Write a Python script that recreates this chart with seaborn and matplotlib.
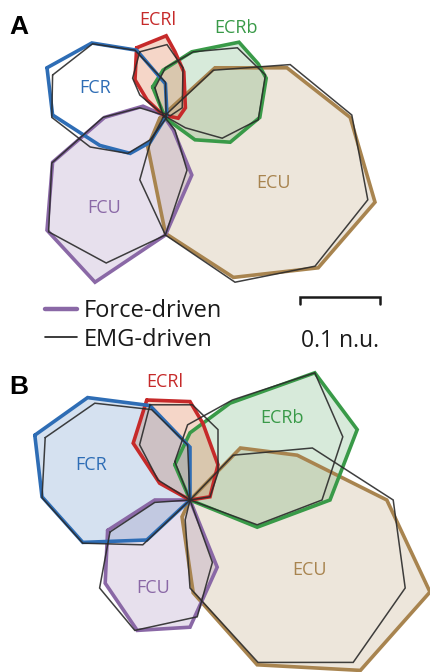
import numpy as np
import pandas as pd
import matplotlib
matplotlib.use("Agg")
import matplotlib.pyplot as plt
import seaborn as sns
from matplotlib.lines import Line2D

# ---------------- data (n.u., relative to the common origin) ----------------
muscles = ["ECU", "FCU", "ECRb", "ECRl", "FCR"]
colors = {"FCR": "#2e6db5", "ECRl": "#c62a2a", "ECRb": "#399a48",
          "ECU": "#a8844f", "FCU": "#8a68a6"}
fill_colors = {"FCR": ("#2e6db5", 0.2), "ECRl": ("#e0784a", 0.3), "ECRb": ("#399a48", 0.2),
               "ECU": ("#a8844f", 0.2), "FCU": ("#8a68a6", 0.2)}

# Panel A -- force-driven
a_fcr_force_x = [-0.145, -0.089, -0.033, 0.003, 0.005, -0.016, -0.041, -0.079, -0.138]
a_fcr_force_y = [0.059, 0.090, 0.081, 0.039, 0.000, -0.034, -0.048, -0.038, 0.000]
a_ecrl_force_x = [-0.033, 0.004, 0.015, 0.026, 0.028, 0.019, 0.000, -0.020, -0.035]
a_ecrl_force_y = [0.084, 0.099, 0.079, 0.054, 0.009, -0.004, 0.000, 0.019, 0.044]
a_ecrb_force_x = [-0.013, 0.000, 0.036, 0.095, 0.119, 0.129, 0.121, 0.084, 0.040, 0.003]
a_ecrb_force_y = [0.035, 0.056, 0.079, 0.091, 0.064, 0.046, -0.003, -0.034, -0.031, -0.004]
a_ecu_force_x = [-0.004, 0.065, 0.155, 0.234, 0.265, 0.194, 0.088, 0.003, -0.019]
a_ecu_force_y = [-0.004, 0.059, 0.059, -0.003, -0.109, -0.191, -0.203, -0.148, -0.040]
a_fcu_force_x = [0.000, -0.025, -0.073, -0.138, -0.145, -0.085, 0.003, 0.036, 0.013]
a_fcu_force_y = [0.000, 0.011, -0.003, -0.059, -0.144, -0.209, -0.150, -0.075, -0.019]

# Panel A -- EMG-driven
a_fcr_emg_x = [-0.138, -0.088, -0.035, 0.003, 0.004, -0.016, -0.044, -0.091, -0.139]
a_fcr_emg_y = [0.050, 0.089, 0.081, 0.041, -0.004, -0.031, -0.048, -0.040, -0.003]
a_ecrl_emg_x = [-0.029, 0.005, 0.025, 0.024, 0.009, -0.004, -0.029, -0.038]
a_ecrl_emg_y = [0.079, 0.088, 0.059, 0.009, -0.001, 0.004, 0.025, 0.046]
a_ecrb_emg_x = [-0.010, 0.003, 0.038, 0.093, 0.128, 0.119, 0.074, 0.028, 0.000]
a_ecrb_emg_y = [0.034, 0.059, 0.079, 0.084, 0.050, -0.006, -0.029, -0.016, 0.000]
a_ecu_emg_x = [0.000, 0.063, 0.159, 0.236, 0.256, 0.190, 0.090, 0.003, -0.029, -0.016]
a_ecu_emg_y = [-0.003, 0.056, 0.063, 0.000, -0.106, -0.189, -0.209, -0.150, -0.081, -0.035]
a_fcu_emg_x = [0.000, -0.029, -0.075, -0.139, -0.143, -0.071, 0.003, 0.030, 0.015]
a_fcu_emg_y = [0.000, 0.009, -0.003, -0.060, -0.146, -0.185, -0.150, -0.069, -0.019]

# Panel B -- force-driven
b_fcr_force_x = [-0.194, -0.128, -0.050, 0.000, 0.000, -0.054, -0.134, -0.185]
b_fcr_force_y = [0.081, 0.128, 0.118, 0.066, 0.000, -0.050, -0.053, 0.004]
b_ecrl_force_x = [-0.054, 0.000, 0.016, 0.035, 0.025, 0.000, -0.038, -0.071]
b_ecrl_force_y = [0.125, 0.123, 0.096, 0.044, 0.004, 0.000, 0.021, 0.071]
b_ecrb_force_x = [-0.019, 0.000, 0.050, 0.156, 0.209, 0.175, 0.084, 0.000]
b_ecrb_force_y = [0.044, 0.084, 0.121, 0.159, 0.088, 0.000, -0.034, 0.000]
b_ecu_force_x = [0.000, 0.063, 0.134, 0.246, 0.300, 0.213, 0.084, 0.004, -0.010]
b_ecu_force_y = [0.000, 0.065, 0.056, 0.000, -0.115, -0.213, -0.206, -0.116, -0.021]
b_fcu_force_x = [-0.103, -0.044, 0.000, 0.034, 0.000, -0.066, -0.106]
b_fcu_force_y = [-0.038, 0.000, 0.000, -0.084, -0.159, -0.163, -0.104]

# Panel B -- EMG-driven
b_fcr_emg_x = [-0.181, -0.119, -0.048, -0.003, 0.000, -0.059, -0.134, -0.185]
b_fcr_emg_y = [0.078, 0.121, 0.113, 0.069, 0.000, -0.056, -0.054, 0.003]
b_ecrl_emg_x = [-0.050, 0.003, 0.035, 0.035, 0.025, 0.000, -0.040, -0.063]
b_ecrl_emg_y = [0.119, 0.119, 0.088, 0.034, 0.004, 0.000, 0.025, 0.069]
b_ecrb_emg_x = [-0.019, -0.003, 0.053, 0.156, 0.191, 0.165, 0.084, 0.000]
b_ecrb_emg_y = [0.048, 0.094, 0.125, 0.159, 0.079, 0.000, -0.031, 0.000]
b_ecu_emg_x = [0.000, 0.054, 0.153, 0.254, 0.269, 0.204, 0.085, 0.000, -0.006]
b_ecu_emg_y = [0.000, 0.056, 0.065, 0.000, -0.110, -0.203, -0.203, -0.110, -0.025]
b_fcu_emg_x = [-0.100, -0.044, 0.000, 0.028, 0.009, -0.069, -0.113]
b_fcu_emg_y = [-0.040, -0.003, 0.000, -0.078, -0.146, -0.163, -0.110]

scale_len = 0.1
legend_labels = ["Force-driven", "EMG-driven"]

# ---------------- build tidy table ----------------
rows = []
src = {
    ("A", "FCR"): (a_fcr_force_x, a_fcr_force_y, a_fcr_emg_x, a_fcr_emg_y),
    ("A", "ECRl"): (a_ecrl_force_x, a_ecrl_force_y, a_ecrl_emg_x, a_ecrl_emg_y),
    ("A", "ECRb"): (a_ecrb_force_x, a_ecrb_force_y, a_ecrb_emg_x, a_ecrb_emg_y),
    ("A", "ECU"): (a_ecu_force_x, a_ecu_force_y, a_ecu_emg_x, a_ecu_emg_y),
    ("A", "FCU"): (a_fcu_force_x, a_fcu_force_y, a_fcu_emg_x, a_fcu_emg_y),
    ("B", "FCR"): (b_fcr_force_x, b_fcr_force_y, b_fcr_emg_x, b_fcr_emg_y),
    ("B", "ECRl"): (b_ecrl_force_x, b_ecrl_force_y, b_ecrl_emg_x, b_ecrl_emg_y),
    ("B", "ECRb"): (b_ecrb_force_x, b_ecrb_force_y, b_ecrb_emg_x, b_ecrb_emg_y),
    ("B", "ECU"): (b_ecu_force_x, b_ecu_force_y, b_ecu_emg_x, b_ecu_emg_y),
    ("B", "FCU"): (b_fcu_force_x, b_fcu_force_y, b_fcu_emg_x, b_fcu_emg_y),
}
for (panel, m), (fx, fy, ex, ey) in src.items():
    for kind, xs, ys in (("force", fx, fy), ("emg", ex, ey)):
        xs = list(xs) + [xs[0]]
        ys = list(ys) + [ys[0]]
        for i, (x, y) in enumerate(zip(xs, ys)):
            rows.append(dict(panel=panel, muscle=m, kind=kind, order=i, x=x, y=y))
df = pd.DataFrame(rows)

# ---------------- figure ----------------
sns.set_theme(style="white")
plt.rcParams["font.family"] = ["Open Sans", "DejaVu Sans"]

W, H = 431, 672
fig = plt.figure(figsize=(W / 100, H / 100), dpi=100)
PX = 800.0  # pixels per n.u.

axA = fig.add_axes([0, 1 - 360 / H, 1, 360 / H])
axA.set_xlim(-163 / PX, (W - 163) / PX)
axA.set_ylim((115 - 360) / PX, 115 / PX)
axB = fig.add_axes([0, 0, 1, 312 / H])
axB.set_xlim(-190 / PX, (W - 190) / PX)
axB.set_ylim((500 - 672) / PX, (500 - 360) / PX)

label_pos = {
    "A": {"FCR": (-0.085, 0.034), "ECRl": (-0.006, 0.119), "ECRb": (0.091, 0.109),
          "ECU": (0.138, -0.085), "FCU": (-0.073, -0.116)},
    "B": {"FCR": (-0.124, 0.044), "ECRl": (-0.031, 0.148), "ECRb": (0.115, 0.103),
          "ECU": (0.150, -0.088), "FCU": (-0.046, -0.110)},
}

for panel, ax in (("A", axA), ("B", axB)):
    sub = df[df.panel == panel]
    # fills
    for m in muscles:
        if panel == "A" and m == "FCR":
            continue
        p = sub[(sub.muscle == m) & (sub.kind == "force")]
        fc, fa = fill_colors[m]
        ax.fill(p.x, p.y, color=fc, alpha=fa, lw=0, zorder=1)
    # force outlines
    for m in muscles:
        p = sub[(sub.muscle == m) & (sub.kind == "force")]
        sns.lineplot(data=p, x="x", y="y", sort=False, estimator=None,
                     color=colors[m], lw=2.6, ax=ax, legend=False, zorder=2)
    # EMG outlines
    for m in muscles:
        p = sub[(sub.muscle == m) & (sub.kind == "emg")]
        sns.lineplot(data=p, x="x", y="y", sort=False, estimator=None,
                     color="#2a2a2a", alpha=0.9, lw=1.1, ax=ax, legend=False, zorder=3)
    for m in muscles:
        lx, ly = label_pos[panel][m]
        ax.text(lx, ly, m, color=colors[m], fontsize=13, ha="center", va="center", zorder=5)
    for line in ax.lines:
        line.set_solid_joinstyle("miter")
    ax.set_xlabel("")
    ax.set_ylabel("")
    ax.axis("off")

# scale bar in panel A
x0 = (300 - 163) / PX
yb = (115 - 297) / PX
tick = 7 / PX
axA.plot([x0, x0, x0 + scale_len, x0 + scale_len], [yb - tick, yb, yb, yb - tick],
         color="#1a1a1a", lw=1.8, solid_joinstyle="miter", zorder=5)
axA.text(x0 + scale_len / 2, (115 - 347) / PX, f"{scale_len:g} n.u.", ha="center",
         va="baseline", fontsize=16.5, color="#1a1a1a")

# legend
handles = [Line2D([0], [0], color=colors["FCU"], lw=3.2),
           Line2D([0], [0], color="#1a1a1a", lw=1.2)]
fig.legend(handles, legend_labels, loc="upper left",
           bbox_to_anchor=(45 / W, 1 - 299 / H), frameon=False, fontsize=17,
           handlelength=1.35, handletextpad=0.3, labelspacing=0.2,
           borderpad=0, borderaxespad=0, labelcolor="#1a1a1a")

# panel letters
fig.text(9 / W, 1 - 34 / H, "A", fontsize=19, fontweight="bold", color="black",
         family=["Liberation Sans", "DejaVu Sans"], va="baseline", ha="left")
fig.text(9 / W, 1 - 394 / H, "B", fontsize=19, fontweight="bold", color="black",
         family=["Liberation Sans", "DejaVu Sans"], va="baseline", ha="left")

fig.savefig("out.png", dpi=100)
